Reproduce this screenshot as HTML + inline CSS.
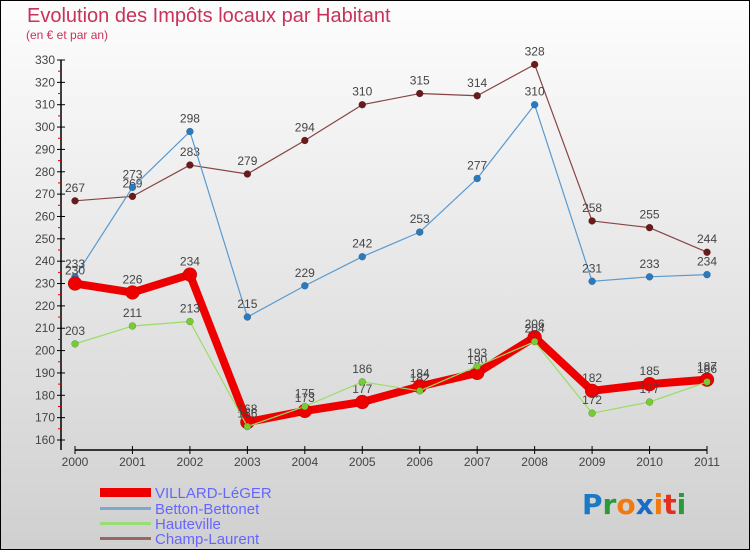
<!DOCTYPE html>
<html><head><meta charset="utf-8"><style>
body{margin:0}
#c{width:750px;height:550px;position:relative;box-sizing:border-box;border:1px solid #000;background:linear-gradient(#fdfdfd,#d0d0d0);font-family:"Liberation Sans",sans-serif;overflow:hidden}
</style></head><body>
<div id="c">
<svg id="s" width="750" height="550" style="position:absolute;left:-1px;top:-1px">
<text x="27" y="22" font-size="20" fill="#c8325a">Evolution des Impôts locaux par Habitant</text>
<text x="26" y="39" font-size="12" fill="#c8325a">(en € et par an)</text>
<g id="axes"></g><g id="series"></g>
<g font-size="15" fill="#6666ff">
<rect x="100" y="488" width="51" height="9" fill="#e00"/>
<text x="155" y="498">VILLARD-LéGER</text>
<rect x="100" y="507" width="51" height="3" fill="#7aaad0"/>
<text x="155" y="514">Betton-Bettonet</text>
<rect x="100" y="522" width="51" height="3" fill="#99dd77"/>
<text x="155" y="529">Hauteville</text>
<rect x="100" y="537" width="51" height="3" fill="#996666"/>
<text x="155" y="544">Champ-Laurent</text>
</g>
<g font-size="28" font-weight="bold" font-family="'DejaVu Sans',sans-serif">
<text x="582" y="514"><tspan fill="#1a7ac8">P</tspan><tspan fill="#2a9a3a">r</tspan><tspan fill="#f07a10">o</tspan><tspan fill="#1a6ac8">x</tspan><tspan fill="#f07a10">i</tspan><tspan fill="#e03020">t</tspan><tspan fill="#2a9a3a">i</tspan></text>
</g>
</svg>
</div>
<script>
const years=["2000","2001","2002","2003","2004","2005","2006","2007","2008","2009","2010","2011"];
const yTicks=[160,170,180,190,200,210,220,230,240,250,260,270,280,290,300,310,320,330];
const villard=[230,226,234,168,173,177,184,190,206,182,185,187];
const betton=[233,273,298,215,229,242,253,277,310,231,233,234];
const hauteville=[203,211,213,166,175,186,182,193,204,172,177,186];
const champ=[267,269,283,279,294,310,315,314,328,258,255,244];
const NS="http://www.w3.org/2000/svg";
const X0=75,X1=707,Y0=440,Y1=60,VMIN=160,VMAX=330;
function xs(i){return X0+(X1-X0)*i/(years.length-1);}
function ys(v){return Y0-(v-VMIN)*(Y0-Y1)/(VMAX-VMIN);}
function mk(t,a,p){const e=document.createElementNS(NS,t);for(const k in a)e.setAttribute(k,a[k]);p.appendChild(e);return e;}
const ax=document.getElementById('axes');
let l=mk('line',{x1:61,y1:60,x2:61,y2:450,stroke:'#000','stroke-width':1.5},ax);


l=mk('line',{x1:75,y1:450,x2:707,y2:450,stroke:'#000','stroke-width':1.5},ax);


yTicks.forEach(v=>{const y=ys(v);
 mk('line',{x1:57,y1:y,x2:65,y2:y,stroke:'#000'},ax);
 const t=mk('text',{x:55,y:y+4,'font-size':12,fill:'#444','text-anchor':'end'},ax);t.textContent=v;
 
 
 if(v<330)mk('line',{x1:58,y1:ys(v+5),x2:61,y2:ys(v+5),stroke:'#d00'},ax);
});
years.forEach((yr,i)=>{const x=xs(i);
 mk('line',{x1:x,y1:446,x2:x,y2:454,stroke:'#000'},ax);
 const t=mk('text',{x:x,y:466,'font-size':12,fill:'#444','text-anchor':'middle'},ax);t.textContent=yr;
 
 
});
const sg=document.getElementById('series');
function draw(name,data,color,w,r,dot){
 const g=mk('g',{},sg);
 
 
 const p=mk('polyline',{points:data.map((v,i)=>xs(i)+','+ys(v)).join(' '),fill:'none',stroke:color,'stroke-width':w,'stroke-linejoin':'round'},g);
 
 
 data.forEach((v,i)=>{
  const c=mk('circle',{cx:xs(i),cy:ys(v),r:r,fill:dot,stroke:'rgba(0,0,0,0.3)','stroke-width':0.5},g);
  
  
  const t=mk('text',{x:xs(i),y:ys(v)-9,'font-size':12,fill:'#444','text-anchor':'middle'},g);t.textContent=v;
  
  
 });
}
draw('champ-laurent',champ,'#884444',1.2,3.5,'#6a1a1a');
draw('betton-bettonet',betton,'#5a9ad0',1.2,3.5,'#2a7ac0');
draw('villard-leger',villard,'#ee0000',8,7,'#ee0000');
draw('hauteville',hauteville,'#99dd66',1.2,3.5,'#77cc33');
</script>
</body></html>
